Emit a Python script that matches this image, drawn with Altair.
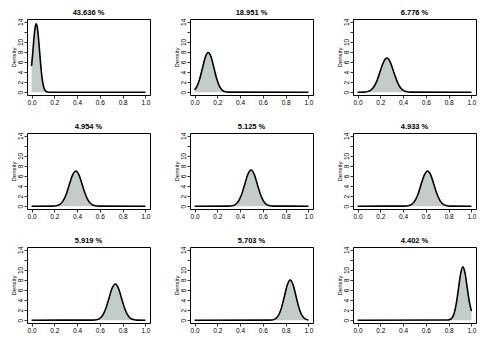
import altair as alt
import pandas as pd

titles = ["43.636 %", "18.951 %", "6.776 %",
          "4.954 %", "5.125 %", "4.933 %",
          "5.919 %", "5.703 %", "4.402 %"]

x1 = [0, 0.01, 0.02, 0.03, 0.041, 0.05, 0.06, 0.07, 0.08, 0.09, 0.10, 0.11, 0.12, 0.135, 0.15, 1.0]
y1 = [5.2, 7.7, 10.5, 12.65, 13.6, 12.96, 10.97, 8.25, 5.5, 3.26, 1.72, 0.80, 0.34, 0.07, 0, 0]

x2 = [0, 0.02, 0.045, 0.07, 0.095, 0.12, 0.145, 0.17, 0.195, 0.22, 0.245, 0.27, 0.30, 1.0]
y2 = [0.47, 1.11, 2.62, 4.84, 6.99, 7.9, 6.99, 4.84, 2.62, 1.11, 0.37, 0.10, 0.01, 0]

x3 = [0, 0.051, 0.080, 0.110, 0.139, 0.169, 0.198, 0.228, 0.257, 0.287, 0.316, 0.346, 0.375, 0.405, 0.434, 0.464, 1.0]
y3 = [0, 0.015, 0.075, 0.30, 0.92, 2.21, 4.12, 6.0, 6.8, 6.0, 4.12, 2.21, 0.92, 0.30, 0.075, 0.015, 0]

x4 = [0, 0.189, 0.217, 0.246, 0.274, 0.303, 0.331, 0.360, 0.388, 0.417, 0.445, 0.474, 0.502, 0.531, 0.559, 0.588, 1.0]
y4 = [0, 0.02, 0.08, 0.31, 0.95, 2.27, 4.25, 6.18, 7.0, 6.18, 4.25, 2.27, 0.95, 0.31, 0.08, 0.02, 0]

x5 = [0, 0.302, 0.330, 0.357, 0.385, 0.413, 0.441, 0.468, 0.496, 0.524, 0.551, 0.579, 0.607, 0.634, 0.662, 0.690, 1.0]
y5 = [0, 0.016, 0.08, 0.32, 0.97, 2.34, 4.37, 6.35, 7.2, 6.35, 4.37, 2.34, 0.97, 0.32, 0.08, 0.016, 0]

x6 = [0, 0.415, 0.443, 0.472, 0.500, 0.529, 0.557, 0.586, 0.614, 0.643, 0.671, 0.700, 0.728, 0.757, 0.785, 0.814, 1.0]
y6 = [0, 0.02, 0.08, 0.31, 0.95, 2.27, 4.25, 6.18, 7.0, 6.18, 4.25, 2.27, 0.95, 0.31, 0.08, 0.02, 0]

x7 = [0, 0.541, 0.569, 0.596, 0.624, 0.652, 0.680, 0.707, 0.735, 0.763, 0.790, 0.818, 0.846, 0.873, 0.901, 0.929, 1.0]
y7 = [0, 0.016, 0.08, 0.32, 0.97, 2.34, 4.37, 6.35, 7.2, 6.35, 4.37, 2.34, 0.97, 0.32, 0.08, 0.016, 0]

x8 = [0, 0.665, 0.690, 0.715, 0.740, 0.765, 0.790, 0.815, 0.840, 0.865, 0.890, 0.915, 0.940, 0.965, 0.990, 1.0]
y8 = [0, 0.018, 0.089, 0.35, 1.08, 2.60, 4.85, 7.06, 8.0, 7.06, 4.85, 2.60, 1.08, 0.35, 0.09, 0.05]

x9 = [0, 0.792, 0.811, 0.830, 0.849, 0.868, 0.887, 0.906, 0.925, 0.944, 0.963, 0.982, 1.0]
y9 = [0, 0.023, 0.12, 0.47, 1.43, 3.44, 6.43, 9.35, 10.6, 9.35, 6.43, 3.6, 1.8]

xs = [x1, x2, x3, x4, x5, x6, x7, x8, x9]
ys = [y1, y2, y3, y4, y5, y6, y7, y8, y9]

x_ticks = [0, 0.2, 0.4, 0.6, 0.8, 1.0]
y_ticks = [0, 2, 4, 6, 8, 10, 12, 14]

FILL = "#c4cccb"
W, H = 123, 76


def panel(title, xv, yv):
    df = pd.DataFrame({"x": xv, "y": yv})
    xenc = alt.X("x:Q", scale=alt.Scale(domain=[-0.04, 1.04], nice=False, zero=False),
                 axis=alt.Axis(values=x_ticks, format=".1f", title=None, grid=False,
                               domain=False, tickSize=3, labelPadding=1,
                               labelOverlap=False, labelFlush=False, labelBound=False))
    yenc = alt.Y("y:Q", scale=alt.Scale(domain=[-0.56, 14.56], nice=False, zero=False),
                 axis=alt.Axis(values=y_ticks, title="Density", grid=False, domain=False,
                               tickSize=3, labelPadding=1, labelAngle=270,
                               labelAlign="center", labelBaseline="bottom",
                               labelOverlap=False, labelFlush=False, labelBound=False,
                               labelExpr="datum.value == 12 ? '' : datum.label",
                               titlePadding=1))
    base = alt.Chart(df).encode(x=xenc, y=yenc)
    area = base.mark_area(color=FILL, interpolate="monotone")
    line = base.mark_line(color="black", strokeWidth=1.6, interpolate="monotone")
    return alt.layer(area, line).properties(
        width=W, height=H,
        title=alt.Title(title, fontSize=7.5, fontWeight="bold", offset=2, anchor="middle"))


panels = [panel(t, xv, yv) for t, xv, yv in zip(titles, xs, ys)]

chart = alt.concat(*panels, columns=3, spacing={"row": 38, "column": 40}, bounds="flush").properties(
    padding={"left": 1, "top": 0, "right": 0, "bottom": 0}
).configure_view(stroke="black", strokeWidth=1).configure_axis(
    labelFont="Liberation Sans", labelFontSize=6.5, labelColor="black",
    titleFont="Liberation Sans", titleFontSize=6, titleFontWeight="normal", titleColor="black",
    tickColor="black", tickWidth=0.8
).configure_title(font="Liberation Sans", color="black")

chart.save("out.html", embed_options={"renderer": "svg", "actions": False})
